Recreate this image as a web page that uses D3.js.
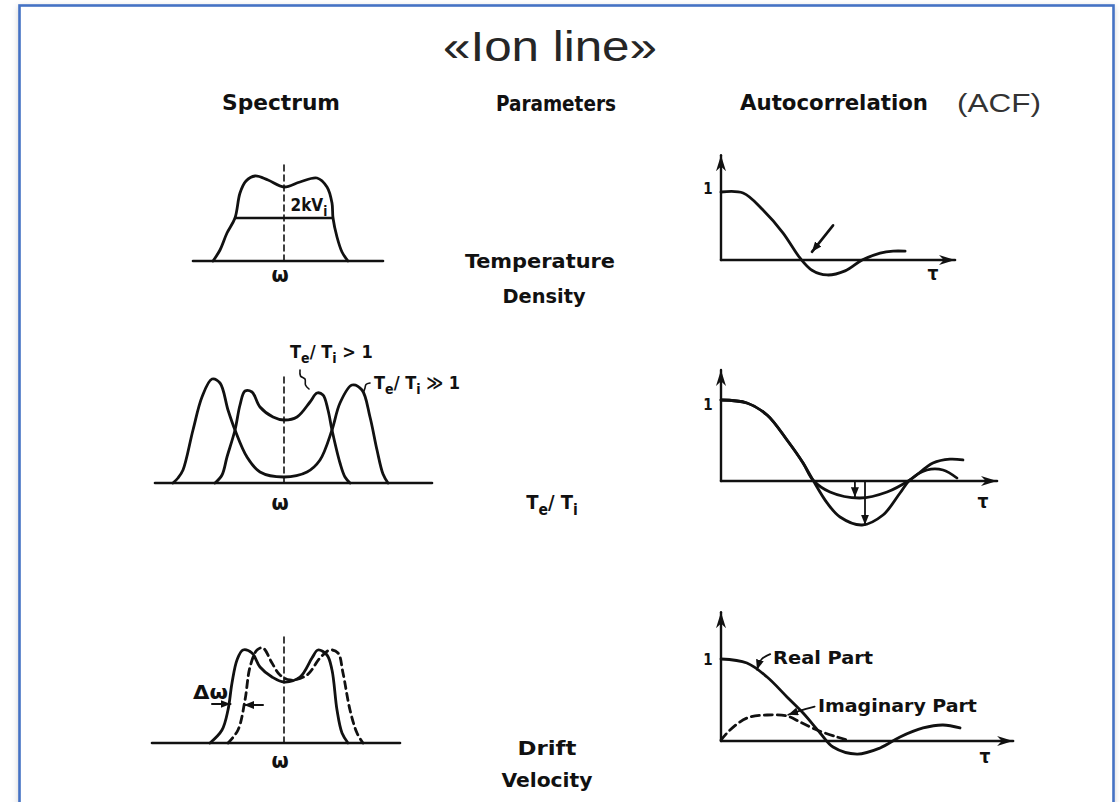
<!DOCTYPE html>
<html><head><meta charset="utf-8">
<script src="https://cdn.jsdelivr.net/npm/d3@7"></script>
<style>
html,body{margin:0;padding:0;background:#fff;}
svg{display:block;}
.scan{font-family:'DejaVu Sans Condensed','DejaVu Sans',sans-serif;font-weight:bold;fill:#111;}
</style></head><body>
<svg id="chart" width="1120" height="802"></svg>
<script>
// ---------------- DATA ----------------
const titleText = "«Ion line»";
const acfTag = "(ACF)";
const columnHeaders = ["Spectrum", "Parameters", "Autocorrelation"];
const parameterLabels = [["Temperature", "Density"], ["Te/Ti"], ["Drift", "Velocity"]];

// Spectrum panel 1 (temperature / density): x = frequency offset, y = power
const spec1Curve = [[-0.71,0],[-0.64,0.11],[-0.57,0.28],[-0.49,0.43],[-0.44,0.68],[-0.38,0.80],[-0.29,0.85],[-0.16,0.81],[0,0.74],[0.16,0.79],[0.33,0.83],[0.43,0.74],[0.48,0.58],[0.49,0.43],[0.53,0.24],[0.58,0.09],[0.64,0]];
const spec1HalfLevel = 0.43;
const spec1HalfEnds = [-0.49, 0.49];

// Spectrum panel 2 (Te/Ti)
const spec2Strong = [[-1.11,0],[-1.06,0.05],[-1.01,0.13],[-0.91,0.53],[-0.82,0.86],[-0.72,1.04],[-0.64,1.00],[-0.56,0.73],[-0.49,0.53],[-0.37,0.26],[-0.24,0.11],[0,0.06],[0.23,0.11],[0.36,0.23],[0.48,0.53],[0.56,0.80],[0.68,0.98],[0.78,0.93],[0.86,0.66],[0.93,0.33],[0.99,0.09],[1.04,0]];
const spec2Weak = [[-0.69,0],[-0.62,0.08],[-0.57,0.26],[-0.49,0.53],[-0.44,0.78],[-0.39,0.92],[-0.32,0.91],[-0.24,0.76],[-0.11,0.66],[0,0.63],[0.13,0.66],[0.26,0.81],[0.33,0.90],[0.39,0.88],[0.44,0.73],[0.48,0.53],[0.56,0.20],[0.61,0.06],[0.66,0]];

// Spectrum panel 3 (drift velocity): solid = no drift, dashed = Doppler shifted
const spec3Solid = [[-0.74,0],[-0.62,0.13],[-0.56,0.33],[-0.52,0.60],[-0.47,0.83],[-0.41,0.93],[-0.32,0.90],[-0.24,0.76],[-0.12,0.66],[0,0.61],[0.16,0.66],[0.28,0.85],[0.34,0.93],[0.43,0.88],[0.48,0.73],[0.53,0.33],[0.58,0.10],[0.64,0]];
const spec3Shifted = [[-0.56,0],[-0.46,0.13],[-0.39,0.43],[-0.34,0.76],[-0.27,0.93],[-0.21,0.95],[-0.12,0.80],[-0.04,0.68],[0.06,0.63],[0.23,0.68],[0.36,0.85],[0.46,0.93],[0.54,0.90],[0.59,0.70],[0.66,0.33],[0.73,0.10],[0.79,0]];

// ACF panel 1
const acf1Curve = [[0,1],[0.092,0.985],[0.175,0.735],[0.258,0.40],[0.329,0.03],[0.379,-0.15],[0.442,-0.22],[0.517,-0.16],[0.588,0],[0.663,0.10],[0.717,0.13],[0.767,0.13]];
// ACF panel 2
const acf2Shallow = [[0,1],[0.108,0.963],[0.192,0.815],[0.275,0.506],[0.342,0.222],[0.383,0.012],[0.454,-0.136],[0.579,-0.21],[0.692,-0.136],[0.787,0.012],[0.883,0.222],[0.954,0.27],[1.008,0.26]];
const acf2Deep = [[0,1],[0.108,0.963],[0.192,0.815],[0.275,0.506],[0.342,0.222],[0.383,0.012],[0.442,-0.27],[0.496,-0.444],[0.588,-0.543],[0.675,-0.42],[0.746,-0.148],[0.787,0.012],[0.858,0.136],[0.925,0.136],[0.983,0.037]];
const acf2DepthMarks = [[0.558,-0.20],[0.60,-0.54]];
// ACF panel 3
const acf3Real = [[0,1],[0.108,0.951],[0.192,0.78],[0.275,0.537],[0.342,0.341],[0.413,0.098],[0.467,-0.073],[0.567,-0.159],[0.663,-0.085],[0.746,0.049],[0.842,0.159],[0.925,0.195],[0.996,0.159]];
const acf3Imag = [[0,0.012],[0.0375,0.134],[0.108,0.28],[0.192,0.317],[0.275,0.305],[0.329,0.232],[0.4,0.134],[0.483,0.049],[0.525,0.012]];

// ---------------- LAYOUT ----------------
const SPEC_CX = 284, ACF_X0 = 721;
const specLayout = [
  {base:261, axis:[-0.91,0.99], dashTop:0.98, omegaY:282},
  {base:483, axis:[-1.29,1.48], dashTop:1.06, omegaY:510},
  {base:743, axis:[-1.32,1.16], dashTop:1.08, omegaY:768}
];
const acfLayout = [
  {base:260, amp:68, xEnd:0.975, yTop:1.54, oneY:194, tau:[933,280]},
  {base:481, amp:81, xEnd:1.15, yTop:1.37, oneY:410, tau:[983,508]},
  {base:741, amp:82, xEnd:1.217, yTop:1.57, oneY:665, tau:[985,763]}
];
const LW = 2.8;

const svg = d3.select("#chart");
const defs = svg.append("defs");
const f = defs.append("filter").attr("id","shadow").attr("x","-5%").attr("y","-5%").attr("width","110%").attr("height","110%");
f.append("feDropShadow").attr("dx",0).attr("dy",2).attr("stdDeviation",3).attr("flood-color","#000").attr("flood-opacity",0.18);
function marker(id, w, h, barbed){
  const m = defs.append("marker").attr("id",id).attr("viewBox",`0 0 ${w} ${h}`)
    .attr("refX",w).attr("refY",h/2).attr("markerWidth",w).attr("markerHeight",h)
    .attr("markerUnits","userSpaceOnUse").attr("orient","auto");
  m.append("path").attr("d", barbed ? `M0,0 L${w},${h/2} L0,${h} L${w*0.3},${h/2} Z` : `M0,0 L${w},${h/2} L0,${h} Z`).attr("fill","#111");
}
marker("axisHead", 16, 10, true);
marker("smallHead", 10, 8, false);

svg.append("rect").attr("width",1120).attr("height",802).attr("fill","#fff");
svg.append("rect").attr("x",19.5).attr("y",5.5).attr("width",1094).attr("height",840)
  .attr("fill","#fff").attr("stroke","#4472c4").attr("stroke-width",2.6).attr("filter","url(#shadow)");

// title
svg.append("text").attr("x",550).attr("y",61).attr("text-anchor","middle")
  .attr("font-family","'Liberation Sans',Arial,sans-serif").attr("font-size",42).attr("fill","#262626")
  .attr("textLength",214).attr("lengthAdjust","spacingAndGlyphs").text(titleText);
svg.append("text").attr("x",957).attr("y",112)
  .attr("font-family","'Liberation Sans',Arial,sans-serif").attr("font-size",26).attr("fill","#333")
  .attr("textLength",84).attr("lengthAdjust","spacingAndGlyphs").text(acfTag);

const headerPos = [[222,118,110],[496,120,111],[740,188,110]];
columnHeaders.forEach((h,i)=>{
  svg.append("text").attr("class","scan").attr("x",headerPos[i][0]).attr("y",headerPos[i][2])
    .attr("font-size",21).attr("textLength",headerPos[i][1]).attr("lengthAdjust","spacingAndGlyphs").text(h);
});

function subText(x, y, parts, size, anchor){
  const t = svg.append("text").attr("class","scan").attr("x",x).attr("y",y).attr("font-size",size)
    .attr("text-anchor",anchor||"start");
  let shifted = false;
  parts.forEach(p=>{
    const isSub = p[1];
    const ts = t.append("tspan").text(p[0]);
    if (isSub && !shifted){ ts.attr("dy", size*0.3).attr("font-size", size*0.78); shifted = true; }
    else if (!isSub && shifted){ ts.attr("dy", -size*0.3); shifted = false; }
  });
  return t;
}

// parameter labels
const paramPos = [[[540,268,150],[544,303,83]],[[552,509,0]],[[547,755,59],[547,787,91]]];
parameterLabels.forEach((grp,i)=>{
  grp.forEach((lab,j)=>{
    const p = paramPos[i][j];
    if (lab === "Te/Ti"){
      subText(p[0], p[1], [["T",false],["e",true],["/ T",false],["i",true]], 20, "middle");
    } else {
      svg.append("text").attr("class","scan").attr("x",p[0]-p[2]/2).attr("y",p[1]).attr("font-size",20)
        .attr("textLength",p[2]).attr("lengthAdjust","spacingAndGlyphs").text(lab);
    }
  });
});

const curve = d3.curveCatmullRom.alpha(0.5);

// ---------------- SPECTRUM PANELS ----------------
function specScales(p){
  return {x:d3.scaleLinear().domain([-1,1]).range([SPEC_CX-100,SPEC_CX+100]),
          y:d3.scaleLinear().domain([0,1]).range([p.base,p.base-100])};
}
function drawLine(sc, pts, dash, w, c){
  const line = d3.line().x(d=>sc.x(d[0])).y(d=>sc.y(d[1])).curve(c||curve);
  return svg.append("path").attr("d",line(pts)).attr("fill","none").attr("stroke","#111")
    .attr("stroke-width",w||LW).attr("stroke-dasharray",dash||null)
    .attr("stroke-linejoin","round").attr("stroke-linecap","round");
}
const specCurves = [[spec1Curve],[spec2Strong,spec2Weak],[spec3Solid]];
specLayout.forEach((p,i)=>{
  const sc = specScales(p);
  drawLine(sc, [[p.axis[0],0],[p.axis[1],0]], null, 2.6, d3.curveLinear);
  drawLine(sc, [[0,0],[0,p.dashTop]], "6,4", 1.6, d3.curveLinear);
  specCurves[i].forEach(c=>drawLine(sc, c));
  svg.append("text").attr("class","scan").attr("x",sc.x(-0.04)).attr("y",p.omegaY)
    .attr("text-anchor","middle").attr("font-size",22).text("ω");
});
// panel 1 extras
{
  const sc = specScales(specLayout[0]);
  drawLine(sc, [[spec1HalfEnds[0],spec1HalfLevel],[spec1HalfEnds[1],spec1HalfLevel]], null, 2.4, d3.curveLinear);
  subText(sc.x(0.065), 211, [["2kV",false],["i",true]], 17);
}
// panel 2 extras
{
  const sc = specScales(specLayout[1]);
  subText(290, 358, [["T",false],["e",true],["/ T",false],["i",true],[" > 1",false]], 18);
  subText(374, 389, [["T",false],["e",true],["/ T",false],["i",true],[" ≫ 1",false]], 18);
  drawLine(sc, [[0.16,1.13],[0.165,1.07],[0.21,1.04],[0.215,0.98],[0.25,0.94]], null, 1.6);
  drawLine(sc, [[0.86,1.0],[0.82,0.985],[0.81,0.95],[0.80,0.92]], null, 1.6);
}
// panel 3 extras
{
  const sc = specScales(specLayout[2]);
  drawLine(sc, spec3Shifted, "7,5", LW);
  svg.append("text").attr("class","scan").attr("x",193).attr("y",699).attr("font-size",20)
    .attr("textLength",35).attr("lengthAdjust","spacingAndGlyphs").text("Δω");
  drawLine(sc, [[-0.72,0.39],[-0.535,0.39]], null, 2, d3.curveLinear).attr("marker-end","url(#smallHead)");
  drawLine(sc, [[-0.21,0.38],[-0.40,0.38]], null, 2, d3.curveLinear).attr("marker-end","url(#smallHead)");
}

// ---------------- ACF PANELS ----------------
function acfScales(p){
  return {x:d3.scaleLinear().domain([0,1]).range([ACF_X0, ACF_X0+240]),
          y:d3.scaleLinear().domain([0,1]).range([p.base, p.base-p.amp])};
}
const acfCurves = [[acf1Curve],[acf2Shallow,acf2Deep],[acf3Real]];
acfLayout.forEach((p,i)=>{
  const sc = acfScales(p);
  drawLine(sc, [[0,0],[p.xEnd,0]], null, 2.6, d3.curveLinear).attr("marker-end","url(#axisHead)");
  drawLine(sc, [[0,0],[0,p.yTop]], null, 2.4, d3.curveLinear).attr("marker-end","url(#axisHead)");
  acfCurves[i].forEach(c=>drawLine(sc, c));
  svg.append("text").attr("class","scan").attr("x",sc.x(-0.035)).attr("y",p.oneY)
    .attr("text-anchor","end").attr("font-size",15).text("1");
  svg.append("text").attr("class","scan").attr("x",p.tau[0]).attr("y",p.tau[1])
    .attr("text-anchor","middle").attr("font-size",19).text("τ");
});
// ACF 1 arrow
{
  const sc = acfScales(acfLayout[0]);
  drawLine(sc, [[0.467,0.51],[0.379,0.12]], null, 2.6, d3.curveLinear).attr("marker-end","url(#smallHead)");
}
// ACF 2 depth marks
{
  const sc = acfScales(acfLayout[1]);
  acf2DepthMarks.forEach(m=>{
    drawLine(sc, [[m[0],0],[m[0],m[1]]], null, 1.8, d3.curveLinear).attr("marker-end","url(#smallHead)");
  });
}
// ACF 3 labels
{
  const sc = acfScales(acfLayout[2]);
  drawLine(sc, acf3Imag, "8,5", LW);
  svg.append("text").attr("class","scan").attr("x",sc.x(0.217)).attr("y",664).attr("font-size",18)
    .attr("textLength",100).attr("lengthAdjust","spacingAndGlyphs").text("Real Part");
  svg.append("text").attr("class","scan").attr("x",sc.x(0.404)).attr("y",712).attr("font-size",18)
    .attr("textLength",159).attr("lengthAdjust","spacingAndGlyphs").text("Imaginary Part");
  drawLine(sc, [[0.205,1.06],[0.17,1.0],[0.15,0.87]], null, 1.8).attr("marker-end","url(#smallHead)");
  drawLine(sc, [[0.39,0.42],[0.33,0.37],[0.28,0.32]], null, 1.8).attr("marker-end","url(#smallHead)");
}
</script>
</body></html>
